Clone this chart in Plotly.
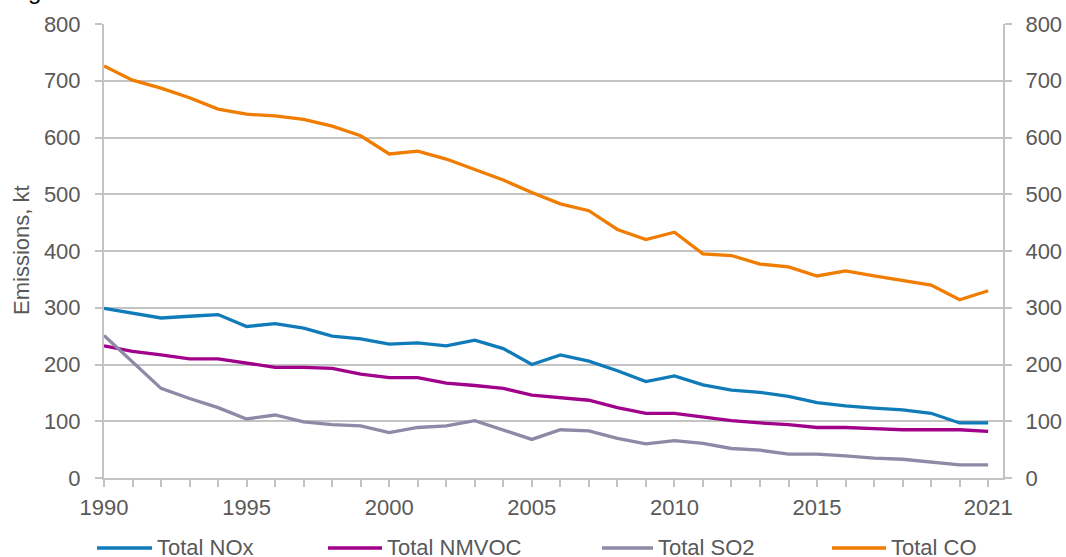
import plotly.graph_objects as go

years = list(range(1990, 2022))

nox = [299, 290, 282, 285, 288, 267, 272, 264, 250, 245, 236, 238, 233, 243, 228,
       200, 217, 206, 189, 170, 180, 164, 155, 151, 144, 133, 127, 123, 120, 114, 97, 97]
nmvoc = [233, 223, 217, 210, 210, 203, 195, 195, 193, 183, 177, 177, 167, 163, 158,
         146, 142, 137, 124, 114, 114, 107, 101, 97, 94, 89, 89, 87, 85, 85, 85, 82]
so2 = [251, 205, 158, 140, 124, 104, 111, 99, 94, 92, 80, 89, 92, 101, 85,
       68, 85, 83, 70, 60, 66, 61, 52, 49, 42, 42, 39, 35, 33, 28, 23, 23]
co = [726, 701, 687, 670, 650, 641, 638, 632, 620, 603, 571, 576, 562, 543, 525,
      503, 483, 471, 438, 420, 433, 395, 392, 377, 372, 356, 365, 356, 348, 340, 314, 330]

series_names = ["Total NOx", "Total NMVOC", "Total SO2", "Total CO"]
series_colors = ["#0F7BB8", "#A1008B", "#8C8AA6", "#F07C00"]

x_tickvals = [1990, 1995, 2000, 2005, 2010, 2015, 2021]
y_tickvals = [0, 100, 200, 300, 400, 500, 600, 700, 800]

FONT = "Liberation Sans, Arial, sans-serif"
TXT = "#595959"
GRID = "#C3C3C3"
FS = 22

# plot area in pixels
L, R, T, B = 104, 1003, 24, 478
W, H = R - L, B - T


def px(xp):
    return (xp - L) / W


def py(yp):
    return (B - yp) / H


fig = go.Figure()
for name, vals, col in zip(series_names, [nox, nmvoc, so2, co], series_colors):
    fig.add_trace(go.Scatter(x=years, y=vals, mode="lines", name=name,
                             line=dict(color=col, width=3.3), showlegend=False))

# invisible trace to activate the right-hand axis
fig.add_trace(go.Scatter(x=[years[0]], y=[0], yaxis="y2", mode="lines",
                         line=dict(width=0), showlegend=False, hoverinfo="skip"))

axis_common = dict(
    showline=True, linecolor=GRID, linewidth=2, zeroline=False,
    ticks="outside", ticklen=7, tickwidth=2, tickcolor=GRID,
    tickfont=dict(size=FS, color=TXT, family=FONT), automargin=False,
)

fig.update_layout(
    width=1066, height=557,
    margin=dict(l=L, r=1066 - R, t=T, b=557 - B),
    paper_bgcolor="white", plot_bgcolor="white",
    font=dict(family=FONT, size=FS, color=TXT),
    showlegend=False,
    xaxis=dict(
        range=[1990, 2021.52], tickmode="array", tickvals=x_tickvals,
        ticktext=[str(v) for v in x_tickvals], showgrid=False,
        minor=dict(ticks="outside", dtick=1, tick0=1990, ticklen=7,
                   tickwidth=2, tickcolor=GRID, showgrid=False),
        ticklabelstandoff=2,
        **axis_common,
    ),
    yaxis=dict(
        range=[0, 800], tickmode="array", tickvals=y_tickvals,
        showgrid=True, gridcolor=GRID, gridwidth=2,
        ticklabelstandoff=10,
        **axis_common,
    ),
    yaxis2=dict(
        range=[0, 800], tickmode="array", tickvals=y_tickvals,
        overlaying="y", side="right", showgrid=False,
        ticklabelstandoff=9,
        **axis_common,
    ),
)

annotations = [
    dict(text="Emissions, kt", textangle=-90, xref="paper", yref="paper",
         x=px(21), y=py(250), xanchor="center", yanchor="middle",
         showarrow=False, font=dict(size=FS, color=TXT, family=FONT)),
    dict(text="g", xref="paper", yref="paper",
         x=px(26), y=py(6), xanchor="left", yanchor="bottom",
         showarrow=False, font=dict(size=24, color="#000000", family=FONT)),
]
shapes = []

# manual legend (line samples + labels)
legend_line_x = [(97, 152), (328, 382), (602, 653), (832, 886)]
legend_y = 547
for name, col, (x0, x1) in zip(series_names, series_colors, legend_line_x):
    shapes.append(dict(type="line", xref="paper", yref="paper",
                       x0=px(x0), x1=px(x1), y0=py(legend_y + 1), y1=py(legend_y + 1),
                       line=dict(color=col, width=3.3)))
    annotations.append(dict(text=name, xref="paper", yref="paper",
                            x=px(x1 + 3), y=py(legend_y), xanchor="left", yanchor="middle",
                            showarrow=False, font=dict(size=FS, color=TXT, family=FONT)))

fig.update_layout(annotations=annotations, shapes=shapes)

fig.write_html("out.html",
               config={"displayModeBar": False},
               post_script="document.body.style.margin='0';document.body.style.overflow='hidden';")
